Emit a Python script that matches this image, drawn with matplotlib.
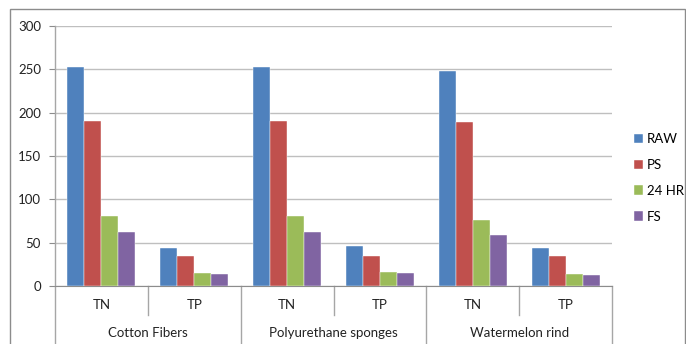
import matplotlib
matplotlib.use("Agg")
import matplotlib.pyplot as plt
import matplotlib.transforms as mtransforms
import numpy as np

plt.rcParams['font.family'] = ['Lato', 'DejaVu Sans']

# data
groups = ['Cotton Fibers', 'Polyurethane sponges', 'Watermelon rind']
params = ['TN', 'TP']
series = ['RAW', 'PS', '24 HR', 'FS']
raw = [253, 44, 253, 46, 248, 44]
ps = [190, 35, 190, 35, 189, 35]
hr24 = [81, 15, 81, 16, 76, 14]
fs = [62, 14, 62, 15, 59, 13]
colors = ['#4F81BD', '#C0504D', '#9BBB59', '#8064A2']

W, H = 686, 344
fig = plt.figure(figsize=(W / 100, H / 100), dpi=100)
ax = fig.add_axes([55 / W, 1 - 286 / H, (612 - 55) / W, 260 / H])

# outer frame of the chart area
fig.patches.append(plt.Rectangle((10 / W, -0.05), (685 - 10) / W, 1 - 9 / H + 0.05,
                                 transform=fig.transFigure, fill=False,
                                 edgecolor='#8C8C8C', linewidth=1.0))

x = np.arange(len(raw))
bw = 0.183
for i, (vals, c) in enumerate(zip([raw, ps, hr24, fs], colors)):
    ax.bar(x + (i - 1.5) * bw, vals, bw, color=c, label=series[i], zorder=3,
           edgecolor='white', linewidth=0.3)

ax.set_xlim(-0.5, 5.5)
ax.set_ylim(0, 300)
ax.set_yticks(range(0, 301, 50))
ax.yaxis.grid(True, color='#BFBFBF', linewidth=1.0, zorder=0)
ax.tick_params(axis='y', length=4, color='#8C8C8C', labelsize=9.5, pad=6,
               labelcolor='#222222')
ax.tick_params(axis='x', length=0, labelbottom=False)
for s in ['top', 'right']:
    ax.spines[s].set_visible(False)
ax.spines['bottom'].set_color('#8C8C8C')
ax.spines['left'].set_visible(False)

trans = mtransforms.blended_transform_factory(ax.transData, ax.transAxes)
lc = '#A6A6A6'
# y axis line extended down through category labels
ax.plot([-0.5, -0.5], [-0.23, 1.0], color=lc, lw=1.0, transform=trans, clip_on=False)
# separators between TN and TP
for g in range(3):
    ax.plot([2 * g + 0.5] * 2, [0, -0.112], color=lc, lw=1.0, transform=trans, clip_on=False)
    ax.plot([2 * g + 1.5] * 2, [0, -0.23], color=lc, lw=1.0, transform=trans, clip_on=False)
for i in range(6):
    ax.text(i, -0.074, params[i % 2], transform=trans, ha='center', va='center',
            fontsize=9.5, color='#222222')
for g, name in enumerate(groups):
    ax.text(2 * g + 0.5, -0.18, name, transform=trans, ha='center', va='center',
            fontsize=9.5, color='#222222')

leg = fig.legend(loc='upper left', bbox_to_anchor=(634 / W, 1 - 133 / H),
                 frameon=False, fontsize=9.5, handlelength=0.7, handleheight=0.7,
                 handletextpad=0.3, labelspacing=1.05, borderpad=0,
                 borderaxespad=0)

fig.savefig('out.png', dpi=100)
